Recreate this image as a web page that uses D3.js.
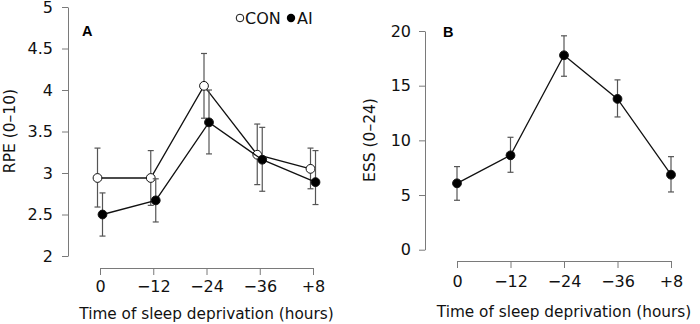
<!DOCTYPE html>
<html>
<head>
<meta charset="utf-8">
<script src="https://cdn.jsdelivr.net/npm/d3@7"></script>
<style>
  body { margin: 0; background: #fff; }
  svg { display: block; font-family: "DejaVu Sans", sans-serif; }
</style>
</head>
<body>
<div id="chart"></div>
<script>
// data
var times = ["0", "-12", "-24", "-36", "+8"];

var rpeCon = [2.94, 2.94, 4.05, 3.22, 3.05];
var rpeConHi = [3.30, 3.27, 4.44, 3.59, 3.30];
var rpeConLo = [2.59, 2.61, 3.66, 2.86, 2.81];

var rpeAi = [2.50, 2.67, 3.61, 3.16, 2.89];
var rpeAiHi = [2.76, 2.93, 4.00, 3.55, 3.27];
var rpeAiLo = [2.24, 2.41, 3.23, 2.78, 2.62];

var ess = [6.07, 8.63, 17.78, 13.79, 6.86];
var essHi = [7.60, 10.28, 19.56, 15.53, 8.51];
var essLo = [4.52, 7.08, 15.86, 12.14, 5.28];

var rpeTicks = [2, 2.5, 3, 3.5, 4, 4.5, 5];
var essTicks = [0, 5, 10, 15, 20];

var svgWidth = 700;
var svgHeight = 324;
var axisColor = "#7a7a7a";
var barColor = "#555";
var pointR = 4.4;
var capW = 3;

var svg = d3.select("#chart")
    .append("svg")
    .attr("width", svgWidth)
    .attr("height", svgHeight);

function makeSeries(vals, hi, lo) {
    return times.map((t, i) => ({t: t, v: vals[i], hi: hi[i], lo: lo[i]}));
}

function drawAxes(p) {
    var yAxisCall = d3.axisLeft(p.y)
        .tickValues(p.yTicks)
        .tickFormat(d3.format("~g"))
        .tickSize(6)
        .tickSizeOuter(0)
        .tickPadding(p.yPad);
    var yg = svg.append("g")
        .attr("transform", `translate(${p.yAxisX},0)`)
        .call(yAxisCall);

    var xAxisCall = d3.axisBottom(p.x)
        .tickFormat(d => d.replace("-", "\u2212"))
        .tickSize(7)
        .tickSizeOuter(0)
        .tickPadding(p.xPad);
    var xg = svg.append("g")
        .attr("transform", `translate(0,${p.xAxisY})`)
        .call(xAxisCall);

    [yg, xg].forEach(g => {
        g.selectAll("path, line").attr("stroke", axisColor).attr("stroke-width", 1);
        g.selectAll("text")
            .attr("fill", "#111")
            .attr("font-size", "16px")
            .attr("font-family", "DejaVu Sans, sans-serif");
    });

    var r = p.x.range();
    svg.append("text")
        .attr("x", (r[0] + r[1]) / 2)
        .attr("y", p.xTitleY)
        .attr("text-anchor", "middle")
        .attr("font-size", "15.3px")
        .attr("fill", "#111")
        .text("Time of sleep deprivation (hours)");

    svg.append("text")
        .attr("transform", `translate(${p.yTitleX},${p.yTitleMid}) rotate(-90)`)
        .attr("text-anchor", "middle")
        .attr("font-size", "15.5px")
        .attr("fill", "#111")
        .text(p.yTitle);

    svg.append("text")
        .attr("x", p.letterX)
        .attr("y", p.letterY)
        .attr("font-size", "14.5px")
        .attr("font-weight", "bold")
        .attr("font-family", "Liberation Sans, Arial, sans-serif")
        .text(p.letter);
}

function drawSeries(series, xScale, yScale, dodge) {
    var g = svg.append("g");
    var line = d3.line()
        .x(d => xScale(d.t) + dodge)
        .y(d => yScale(d.v));

    g.append("path")
        .datum(series)
        .attr("d", line)
        .attr("fill", "none")
        .attr("stroke", "#111")
        .attr("stroke-width", 1.3);

    var bars = g.selectAll(".bar")
        .data(series)
        .enter()
        .append("g")
        .attr("stroke", barColor)
        .attr("stroke-width", 1.2);
    bars.append("line")
        .attr("x1", d => xScale(d.t) + dodge)
        .attr("x2", d => xScale(d.t) + dodge)
        .attr("y1", d => yScale(d.hi))
        .attr("y2", d => yScale(d.lo));
    bars.append("line")
        .attr("x1", d => xScale(d.t) + dodge - capW)
        .attr("x2", d => xScale(d.t) + dodge + capW)
        .attr("y1", d => yScale(d.hi))
        .attr("y2", d => yScale(d.hi));
    bars.append("line")
        .attr("x1", d => xScale(d.t) + dodge - capW)
        .attr("x2", d => xScale(d.t) + dodge + capW)
        .attr("y1", d => yScale(d.lo))
        .attr("y2", d => yScale(d.lo));
    return g;
}

function drawPoints(g, series, xScale, yScale, dodge, fill) {
    g.selectAll("circle")
        .data(series)
        .enter()
        .append("circle")
        .attr("cx", d => xScale(d.t) + dodge)
        .attr("cy", d => yScale(d.v))
        .attr("r", pointR)
        .attr("fill", fill)
        .attr("stroke", "#111")
        .attr("stroke-width", 1);
}

// ---- panel A ----
var xA = d3.scalePoint().domain(times).range([100, 313]);
var yA = d3.scaleLinear().domain([2, 5]).range([256, 7]);
drawAxes({x: xA, y: yA, yTicks: rpeTicks, xAxisY: 268, yAxisX: 68, yPad: 9, xPad: 6,
    xTitleY: 319, yTitle: "RPE (0\u201310)", yTitleX: 15, yTitleMid: 131,
    letter: "A", letterX: 82, letterY: 36});

var conSeries = makeSeries(rpeCon, rpeConHi, rpeConLo);
var aiSeries = makeSeries(rpeAi, rpeAiHi, rpeAiLo);
var gCon = drawSeries(conSeries, xA, yA, -2.5);
var gAi = drawSeries(aiSeries, xA, yA, 2.5);
drawPoints(gCon, conSeries, xA, yA, -2.5, "#fff");
drawPoints(gAi, aiSeries, xA, yA, 2.5, "#000");

// legend
var legend = svg.append("g").attr("font-size", "16px").attr("fill", "#111");
legend.append("circle").attr("cx", 240).attr("cy", 18).attr("r", 3.8).attr("fill", "#fff").attr("stroke", "#111");
legend.append("text").attr("x", 245).attr("y", 24).text("CON");
legend.append("circle").attr("cx", 291).attr("cy", 18).attr("r", 4.2).attr("fill", "#000");
legend.append("text").attr("x", 297).attr("y", 24).text("AI");

// ---- panel B ----
var xB = d3.scalePoint().domain(times).range([457, 671]);
var yB = d3.scaleLinear().domain([0, 20]).range([249.7, 31]);
drawAxes({x: xB, y: yB, yTicks: essTicks, xAxisY: 261, yAxisX: 425, yPad: 8, xPad: 8,
    xTitleY: 317, yTitle: "ESS (0\u201324)", yTitleX: 375, yTitleMid: 140,
    letter: "B", letterX: 443, letterY: 37});

var essSeries = makeSeries(ess, essHi, essLo);
var gEss = drawSeries(essSeries, xB, yB, 0);
drawPoints(gEss, essSeries, xB, yB, 0, "#000");
</script>
</body>
</html>
